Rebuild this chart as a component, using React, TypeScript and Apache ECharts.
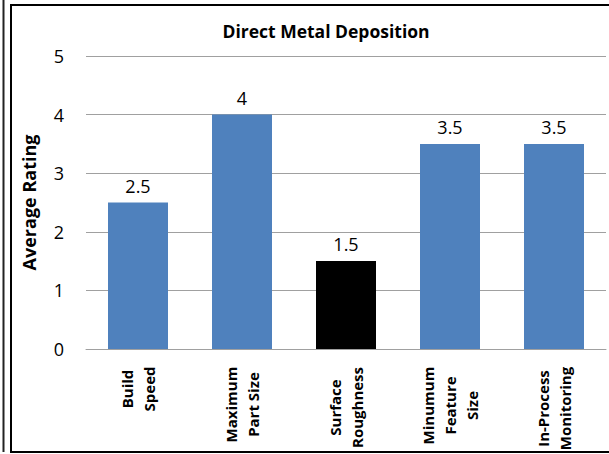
import React, { useEffect, useRef } from "react";
import * as echarts from "echarts";

const categories: string[] = [
  "Build\nSpeed",
  "Maximum\nPart Size",
  "Surface\nRoughness",
  "Minumum\nFeature\nSize",
  "In-Process\nMonitoring",
];
const values: number[] = [2.5, 4, 1.5, 3.5, 3.5];
const barColors: string[] = ["#4F81BD", "#4F81BD", "#000000", "#4F81BD", "#4F81BD"];
const yTicks = { min: 0, max: 5, interval: 1 };
const chartTitle = "Direct Metal Deposition";
const yName = "Average Rating";

const FONT = "'Open Sans', Lato, sans-serif";
const LABEL_SIZE = 15;

function measure(text: string): number {
  const c = document.createElement("canvas");
  const ctx = c.getContext("2d");
  if (!ctx) return text.length * 9;
  ctx.font = `bold ${LABEL_SIZE}px "Open Sans"`;
  return ctx.measureText(text).width;
}

export default function App() {
  const ref = useRef<HTMLDivElement>(null);
  useEffect(() => {
    if (!ref.current) return;
    const chart = echarts.init(ref.current, null, { renderer: "svg" });
    const rich: Record<string, any> = {};
    categories.forEach((c, i) => {
      const w = Math.ceil(Math.max(...c.split("\n").map(measure))) + 1;
      rich["l" + i] = {
        width: w,
        align: "center",
        fontFamily: FONT,
        fontWeight: "bold",
        fontSize: LABEL_SIZE,
        lineHeight: 22,
        color: "#000",
      };
    });
    chart.setOption({
      animation: false,
      backgroundColor: "#fff",
      title: {
        text: chartTitle,
        left: 321,
        textAlign: "center",
        top: 17,
        textStyle: { fontFamily: FONT, fontWeight: "bold", fontSize: 17.5, color: "#000" },
      },
      grid: {
        left: 86,
        right: 3,
        top: 56,
        bottom: 105,
        containLabel: false,
        outerBoundsMode: "none",
      },
      xAxis: {
        type: "category",
        data: categories,
        axisLine: { lineStyle: { color: "#a0a0a0", width: 1 } },
        axisTick: { show: false },
        axisLabel: {
          rotate: 90,
          interval: 0,
          margin: 17,
          fontFamily: FONT,
          fontWeight: "bold",
          fontSize: LABEL_SIZE,
          lineHeight: 22,
          color: "#000",
          formatter: (v: string, i: number) =>
            v
              .split("\n")
              .map((s) => `{l${i}|${s}}`)
              .join("\n"),
          rich,
        },
      },
      yAxis: {
        type: "value",
        min: yTicks.min,
        max: yTicks.max,
        interval: yTicks.interval,
        name: yName,
        nameLocation: "middle",
        nameGap: 48,
        nameTextStyle: { fontFamily: FONT, fontWeight: "bold", fontSize: 18, color: "#000" },
        axisLine: { show: false },
        axisTick: { show: false },
        axisLabel: { margin: 22, fontFamily: FONT, fontSize: 18, color: "#000" },
        splitLine: { lineStyle: { color: "#a0a0a0", width: 1 } },
      },
      series: [
        {
          type: "bar",
          barWidth: 60,
          data: values.map((v, i) => ({ value: v, itemStyle: { color: barColors[i] } })),
          label: {
            show: true,
            position: "top",
            distance: 8,
            fontFamily: FONT,
            fontSize: 18,
            color: "#000",
          },
        },
      ],
      graphic: [
        {
          type: "rect",
          shape: { x: 11, y: 5, width: 640, height: 447 },
          style: { fill: "none", stroke: "#000", lineWidth: 2 },
          silent: true,
        },
        {
          type: "line",
          shape: { x1: 3.5, y1: 0, x2: 3.5, y2: 452 },
          style: { stroke: "#222", lineWidth: 2 },
          silent: true,
        },
      ],
    });
    return () => chart.dispose();
  }, []);
  return (
    <div
      ref={ref}
      style={{ position: "absolute", left: 0, top: 0, width: 609, height: 454 }}
    />
  );
}
